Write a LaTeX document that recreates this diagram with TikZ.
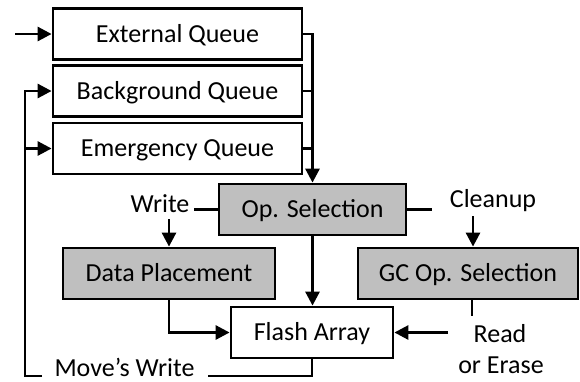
\documentclass[tikz,border=0pt]{standalone}
\usepackage{fontspec}
\setmainfont{Carlito}
\usetikzlibrary{arrows.meta}
\definecolor{boxgray}{RGB}{191,191,191}
\begin{document}
\begin{tikzpicture}[x=1pt,y=-1pt,
 box/.style={draw, line width=2.8pt, inner sep=0pt, text height=16.7pt, text depth=0pt, minimum height=51pt},
 gbox/.style={box, fill=boxgray},
 lbl/.style={inner sep=0pt, anchor=base},
 conn/.style={line width=2.8pt},
 arr/.style={conn, -{Triangle[length=14pt,width=14pt]}},
 font=\fontsize{26}{31}\selectfont]
\useasboundingbox (0,0) rectangle (580,381);
\node[box, minimum width=249pt] (ext) at (177.5,34) {External Queue};
\node[box, minimum width=249pt] (bg) at (177.5,91) {Background Queue};
\node[box, minimum width=249pt] (em) at (177.5,148.5) {Emergency Queue};
\node[gbox, minimum width=187pt] (ops) at (312.5,209.5) {Op. Selection};
\node[gbox, minimum width=212pt] (dp) at (169,273.5) {Data Placement};
\node[gbox, minimum width=220pt] (gc) at (468,273.5) {GC Op. Selection};
\node[box, minimum width=162pt] (fa) at (312,332.5) {Flash Array};
\node[lbl] (wr) at (160,212) {Write};
\node[lbl] (cl) at (493,207) {Cleanup};
\node[lbl] (rd) at (500,342) {Read};
\node[lbl] (oe) at (501,373) {or Erase};
\node[lbl] (mw) at (124.5,376) {Move’s Write};
\coordinate (in) at (15,34);
\coordinate (wrE) at (194,209.5);
\coordinate (wrS) at (169,219);
\coordinate (clW) at (432,209.5);
\coordinate (clS) at (473,216);
\coordinate (gcS) at (472,316);
\coordinate (rdW) at (448,332.5);
\coordinate (mwR) at (208,376);
\coordinate (mwL) at (42,376);
\coordinate (loop) at (25,376);
\draw[arr] (in) -- (ext.west);
\draw[arr] (ext.east) -| (ops.north);
\draw[conn] (bg.east) -- (bg.east -| ops.north);
\draw[conn] (em.east) -- (em.east -| ops.north);
\draw[conn] (ops.west) -- (wrE);
\draw[arr] (wrS) -- (dp.north);
\draw[conn] (ops.east) -- (clW);
\draw[arr] (clS) -- (clS |- gc.north);
\draw[arr] (ops.south) -- (ops.south |- fa.north);
\draw[arr] (dp.south) |- (fa.west);
\draw[conn] (gcS |- gc.south) -- (gcS);
\draw[arr] (rdW) -- (fa.east);
\draw[conn] (fa.south) |- (mwR);
\draw[arr] (mwL) -- (loop) |- (bg.west);
\draw[arr] (loop |- em.west) -- (em.west);
\end{tikzpicture}
\end{document}
